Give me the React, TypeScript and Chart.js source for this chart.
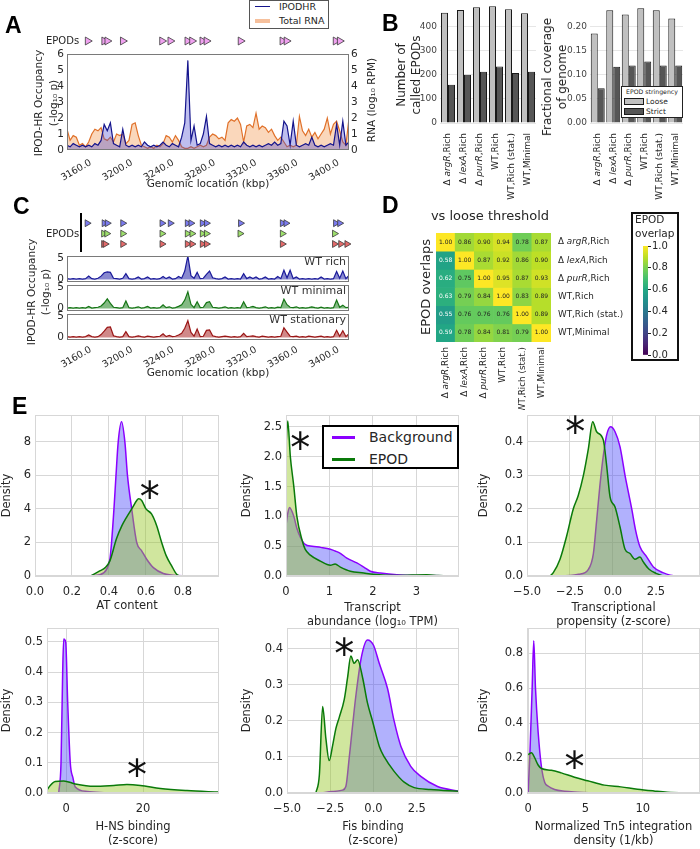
import React, { useEffect, useRef } from 'react';
import { Chart, registerables } from 'chart.js';

Chart.register(...registerables);

const FF = "'DejaVu Sans', sans-serif";
const INK = '#262626';
Chart.defaults.font.family = FF;
Chart.defaults.font.size = 11;
Chart.defaults.color = INK;

/* ================= A & C : genomic tracks ================= */
const GENOME_KBP = [
  3151, 3154, 3157, 3160, 3163, 3166, 3169, 3172, 3175, 3178,
  3181, 3184, 3187, 3190, 3193, 3196, 3199, 3202, 3205, 3208,
  3211, 3214, 3217, 3220, 3223, 3226, 3229, 3232, 3235, 3238,
  3241, 3244, 3247, 3250, 3253, 3256, 3259, 3262, 3265, 3268,
  3271, 3274, 3277, 3280, 3283, 3286, 3289, 3292, 3295, 3298,
  3301, 3304, 3307, 3310, 3313, 3316, 3319, 3322, 3325, 3328,
  3331, 3334, 3337, 3340, 3343, 3346, 3349, 3352, 3355, 3358,
  3361, 3364, 3367, 3370, 3373, 3376, 3379, 3382, 3385, 3388,
  3391, 3394, 3397, 3400, 3403, 3406, 3409, 3412, 3415, 3418,
  3421, 3424,
];
const GENOME_TICKS = [3160, 3200, 3240, 3280, 3320, 3360, 3400];
const GENOME_MIN = 3151;
const GENOME_MAX = 3424;

const IPODHR_A = [
  0.3, 0.2, 0.4, 0.3, 0.2, 0.3, 0.2, 0.3, 0.2, 0.4,
  0.3, 0.6, 1.6, 1.2, 1.7, 0.4, 0.3, 0.2, 1.3, 0.3,
  0.2, 0.3, 0.2, 0.3, 0.2, 0.5, 0.3, 0.2, 0.3, 0.2,
  0.3, 0.5, 0.3, 0.2, 0.4, 0.3, 0.2, 0.8, 1.7, 5.6,
  0.6, 1.5, 0.3, 0.4, 1.0, 2.1, 0.4, 0.3, 0.2, 0.3,
  0.2, 0.3, 0.2, 0.3, 0.2, 0.3, 0.2, 0.5, 0.3, 0.2,
  0.3, 0.2, 0.3, 0.2, 0.3, 0.4, 0.3, 0.5, 0.3, 0.4,
  1.8, 1.5, 0.3, 1.8, 0.3, 0.2, 0.3, 0.4, 0.3, 0.8,
  0.3, 0.2, 0.3, 0.2, 0.3, 0.4, 0.3, 1.6, 0.3, 1.8,
  0.3, 0.5,
];
const TOTAL_RNA_A = [
  1.3, 0.6, 0.9, 0.8, 0.3, 0.4, 0.2, 0.5, 1.0, 1.3,
  1.2, 1.4, 0.7, 0.6, 0.8, 0.5, 1.0, 0.9, 1.0, 0.4,
  0.6, 1.6, 1.7, 0.9, 0.3, 0.2, 0.1, 0.2, 0.1, 0.3,
  0.2, 0.4, 0.9, 0.8, 0.5, 0.9, 0.6, 0.2, 0.1, 0.1,
  0.2, 0.1, 0.2, 0.3, 0.2, 0.3, 0.8, 1.0, 0.9, 0.7,
  0.8, 0.6, 1.7, 1.9, 1.8, 2.0, 1.6, 0.5, 1.5, 1.6,
  1.4, 2.3, 1.3, 1.5, 1.4, 1.1, 1.3, 0.9, 0.6, 0.8,
  0.5, 0.2, 0.3, 0.2, 0.3, 2.1, 1.2, 0.9, 1.3, 0.8,
  1.1, 0.7, 1.0, 1.3, 2.0, 1.0, 1.6, 1.8, 1.2, 0.5,
  0.3, 2.0,
];
const OCC_TICKS_A = [0, 1, 2, 3, 4, 5, 6];
const EPODS_A = [3171, 3187, 3190, 3205, 3243, 3251, 3267.5, 3272, 3282, 3286, 3319, 3359.5, 3363.5, 3411, 3415];

const WT_RICH = [
  0.2, 0.1, 0.2, 0.1, 0.2, 0.1, 0.2, 0.8, 0.2, 0.1,
  0.3, 0.8, 1.6, 1.8, 1.7, 0.3, 0.2, 0.1, 0.3, 1.4,
  0.2, 0.1, 0.2, 0.6, 0.1, 0.2, 0.6, 0.1, 0.2, 0.1,
  0.2, 0.7, 0.2, 0.6, 0.1, 0.2, 0.7, 0.3, 2.0, 5.6,
  0.9, 0.3, 1.7, 0.2, 0.3, 1.2, 2.0, 0.4, 0.2, 0.1,
  0.2, 0.6, 0.1, 0.2, 0.1, 0.2, 0.1, 1.4, 0.2, 0.6,
  0.2, 0.6, 0.1, 0.2, 0.6, 0.1, 0.2, 0.1, 0.7, 0.2,
  2.2, 0.4, 2.2, 0.2, 0.6, 0.1, 0.2, 0.1, 0.2, 0.1,
  0.2, 0.1, 0.6, 0.1, 0.2, 0.1, 0.2, 1.9, 0.3, 2.0,
  0.2, 1.0,
];
const WT_MINIMAL = [
  0.1, 0.2, 0.1, 0.2, 0.1, 0.2, 0.1, 0.5, 0.1, 0.2,
  0.3, 0.6, 1.3, 2.3, 1.2, 0.3, 0.2, 0.1, 0.2, 1.8,
  0.2, 0.1, 0.2, 0.4, 0.1, 0.2, 0.5, 0.1, 0.2, 0.1,
  0.2, 0.9, 0.2, 0.4, 0.1, 0.2, 0.5, 0.9, 2.0, 4.0,
  1.0, 0.2, 1.6, 0.2, 0.3, 1.4, 1.6, 0.3, 0.2, 0.1,
  0.2, 0.4, 0.1, 0.2, 0.1, 0.2, 0.1, 1.6, 0.2, 0.3,
  0.5, 0.2, 0.1, 0.2, 0.4, 0.1, 0.2, 0.1, 0.3, 0.2,
  2.2, 0.9, 0.3, 0.2, 0.4, 0.1, 0.2, 0.1, 0.2, 0.4,
  0.2, 0.1, 0.3, 0.1, 0.2, 0.1, 0.2, 2.0, 0.3, 0.8,
  0.2, 0.3,
];
const WT_STATIONARY = [
  0.2, 0.1, 0.2, 0.1, 0.2, 0.1, 0.2, 0.6, 0.2, 0.1,
  0.2, 0.7, 1.5, 2.4, 2.5, 0.4, 0.2, 0.1, 0.2, 1.4,
  0.2, 0.1, 0.2, 0.4, 0.2, 0.1, 0.3, 0.2, 0.1, 0.2,
  0.3, 0.9, 0.2, 0.5, 0.2, 0.3, 0.6, 1.0, 2.2, 4.0,
  1.2, 0.3, 2.0, 0.2, 0.3, 1.7, 1.8, 0.4, 0.2, 0.1,
  0.2, 0.3, 0.2, 0.1, 0.2, 0.1, 0.2, 1.0, 0.2, 0.3,
  0.4, 0.2, 0.1, 0.3, 0.2, 0.1, 0.2, 0.1, 0.2, 0.3,
  2.3, 1.3, 0.3, 0.2, 0.3, 0.1, 0.2, 0.1, 0.3, 0.2,
  0.1, 0.2, 0.3, 0.1, 0.2, 0.1, 0.2, 1.7, 0.3, 1.6,
  0.2, 0.9,
];
const TRACK_TICKS = [0, 5];
const EPODS_RICH = [3170.5, 3187, 3190, 3205, 3243, 3251, 3267.5, 3271, 3282, 3286, 3319, 3359.5, 3363, 3411, 3415];
const EPODS_MINIMAL = [3186.5, 3189.5, 3205, 3243, 3267.5, 3272, 3282, 3286, 3318.5, 3359.5, 3410];
const EPODS_STATIONARY = [3186.5, 3188, 3205, 3243, 3267.5, 3272, 3282, 3286, 3359.5, 3410, 3416, 3422];

/* ================= B : EPOD counts / coverage ================= */
const GENOTYPES = ['Δ argR,Rich', 'Δ lexA,Rich', 'Δ purR,Rich', 'WT,Rich', 'WT,Rich (stat.)', 'WT,Minimal'];
const EPOD_COUNT_LOOSE = [458, 469, 480, 485, 472, 455];
const EPOD_COUNT_STRICT = [159, 200, 213, 234, 207, 213];
const COUNT_TICKS = [0, 100, 200, 300, 400];
const COVERAGE_LOOSE = [0.185, 0.233, 0.224, 0.237, 0.233, 0.216];
const COVERAGE_STRICT = [0.072, 0.116, 0.119, 0.127, 0.119, 0.119];
const COVERAGE_TICKS = [0, 0.05, 0.1, 0.15, 0.2];

/* ================= D : overlap heatmap ================= */
const OVERLAP_ROWS = [
  [1.0, 0.86, 0.9, 0.94, 0.78, 0.87],
  [0.58, 1.0, 0.87, 0.92, 0.86, 0.9],
  [0.62, 0.75, 1.0, 0.95, 0.87, 0.93],
  [0.63, 0.79, 0.84, 1.0, 0.83, 0.89],
  [0.55, 0.76, 0.76, 0.76, 1.0, 0.89],
  [0.59, 0.78, 0.84, 0.81, 0.79, 1.0],
];
const OVERLAP_TICKS = [0, 0.2, 0.4, 0.6, 0.8, 1.0];

/* ================= E : densities ================= */
const AT_BG_X = [0.22, 0.3, 0.35, 0.387, 0.405, 0.414, 0.427, 0.438, 0.45, 0.468, 0.486, 0.5, 0.523, 0.55, 0.577, 0.604, 0.64, 0.694, 0.748, 0.82];
const AT_BG_Y = [0, 0.02, 0.08, 0.4, 1.0, 2.0, 4.0, 6.0, 8.0, 9.2, 8.0, 6.0, 4.0, 2.0, 1.5, 1.0, 0.5, 0.15, 0.05, 0];
const AT_EP_X = [0.3, 0.35, 0.38, 0.405, 0.44, 0.47, 0.495, 0.523, 0.55, 0.56, 0.577, 0.6, 0.63, 0.658, 0.685, 0.71, 0.739, 0.766, 0.78];
const AT_EP_Y = [0, 0.3, 0.5, 0.9, 2.2, 3.0, 3.5, 4.0, 4.5, 4.6, 4.5, 4.0, 3.7, 3.0, 2.0, 1.2, 0.6, 0.1, 0];

const TX_BG_X = [0, 0.04, 0.08, 0.18, 0.25, 0.33, 0.44, 0.6, 0.8, 1.02, 1.13, 1.25, 1.4, 1.63, 1.79, 1.94, 2.17, 2.55, 3.0, 3.3, 3.98];
const TX_BG_Y = [0.85, 1.05, 1.15, 1.0, 0.8, 0.65, 0.53, 0.5, 0.48, 0.45, 0.42, 0.38, 0.3, 0.22, 0.15, 0.08, 0.05, 0.02, 0.01, 0.01, 0];
const TX_EP_X = [0, 0.04, 0.1, 0.18, 0.25, 0.37, 0.44, 0.56, 0.79, 1.02, 1.13, 1.25, 1.48, 1.79, 2.0, 2.55, 3.24, 3.5, 3.98];
const TX_EP_Y = [2.2, 2.6, 2.0, 1.5, 1.0, 0.6, 0.45, 0.35, 0.25, 0.18, 0.2, 0.15, 0.08, 0.05, 0.03, 0.01, 0.02, 0.01, 0];

const TP_BG_X = [-5.0, -3.1, -2.0, -1.43, -1.14, -0.95, -0.76, -0.56, -0.37, -0.14, 0.12, 0.41, 0.7, 1.09, 1.3, 1.57, 1.96, 2.35, 2.9, 3.7, 5.0];
const TP_BG_Y = [0, 0, 0.005, 0.02, 0.067, 0.166, 0.27, 0.36, 0.42, 0.445, 0.43, 0.385, 0.3, 0.2, 0.14, 0.087, 0.057, 0.027, 0.01, 0, 0];
const TP_EP_X = [-3.66, -3.47, -3.08, -2.69, -2.31, -2.02, -1.72, -1.43, -1.18, -0.95, -0.56, -0.37, -0.17, 0.12, 0.41, 0.7, 0.99, 1.28, 1.57, 1.76, 2.1, 2.5, 2.93];
const TP_EP_Y = [0, 0.01, 0.05, 0.12, 0.2, 0.24, 0.3, 0.38, 0.46, 0.43, 0.405, 0.33, 0.236, 0.206, 0.146, 0.08, 0.067, 0.05, 0.057, 0.042, 0.02, 0.008, 0];

const HNS_BG_X = [-1.9, -1.3, -0.87, -0.6, -0.09, 0.43, 1.1, 1.8, 2.4, 5.5, 10.6];
const HNS_BG_Y = [0, 0.1, 0.4, 0.51, 0.5, 0.3, 0.1, 0.05, 0.02, 0.005, 0];
const HNS_EP_X = [-4.94, -4.1, -2.8, -0.6, 2.4, 7.2, 12.4, 15.8, 19.3, 24.5, 31.4, 39.7];
const HNS_EP_Y = [0.01, 0.025, 0.038, 0.04, 0.03, 0.022, 0.025, 0.028, 0.025, 0.015, 0.008, 0.003];

const FIS_BG_X = [-3.0, -2.4, -1.8, -1.6, -1.4, -1.02, -0.69, -0.35, 0.0, 0.33, 0.81, 1.19, 1.58, 2.15, 2.73, 3.7, 4.94];
const FIS_BG_Y = [0, 0.004, 0.008, 0.018, 0.1, 0.27, 0.38, 0.425, 0.41, 0.36, 0.29, 0.2, 0.13, 0.074, 0.046, 0.018, 0.005];
const FIS_EP_X = [-3.33, -3.13, -2.94, -2.75, -2.56, -2.37, -2.17, -1.98, -1.69, -1.5, -1.31, -1.12, -0.92, -0.63, -0.35, -0.06, 0.33, 0.62, 1.19, 1.77, 2.35, 3.3, 4.94];
const FIS_EP_Y = [0, 0.05, 0.24, 0.15, 0.09, 0.13, 0.18, 0.21, 0.26, 0.32, 0.38, 0.36, 0.37, 0.32, 0.25, 0.2, 0.13, 0.1, 0.06, 0.03, 0.015, 0.01, 0.005];

const TN5_BG_X = [0, 0.14, 0.35, 0.49, 0.64, 0.87, 1.16, 1.45, 1.73, 2.31, 3.18, 4.34, 5.8];
const TN5_BG_Y = [0, 0.2, 0.6, 0.87, 0.6, 0.35, 0.15, 0.06, 0.04, 0.02, 0.01, 0.005, 0];
const TN5_EP_X = [0, 0.29, 0.58, 0.87, 1.16, 2.02, 2.89, 4.05, 5.2, 6.65, 8.09, 9.54, 10.98, 12.14, 13.87, 15.0];
const TN5_EP_Y = [0.22, 0.23, 0.2, 0.16, 0.14, 0.13, 0.115, 0.09, 0.07, 0.045, 0.035, 0.022, 0.012, 0.005, 0.001, 0];

/* ================= helpers ================= */
const VIRIDIS = ['#440154', '#482475', '#414487', '#355f8d', '#2a788e', '#21918c', '#22a884', '#44bf70', '#7ad151', '#bddf26', '#fde725'];
const hexRgb = (h: string) => [parseInt(h.slice(1, 3), 16), parseInt(h.slice(3, 5), 16), parseInt(h.slice(5, 7), 16)];
function viridis(t: number): string {
  const v = Math.max(0, Math.min(1, t)) * (VIRIDIS.length - 1);
  const i = Math.min(VIRIDIS.length - 2, Math.floor(v));
  const f = v - i;
  const a = hexRgb(VIRIDIS[i]);
  const b = hexRgb(VIRIDIS[i + 1]);
  return `rgb(${Math.round(a[0] + (b[0] - a[0]) * f)},${Math.round(a[1] + (b[1] - a[1]) * f)},${Math.round(a[2] + (b[2] - a[2]) * f)})`;
}

const fixedTicks = (vals: number[]) => (s: any) => {
  s.ticks = vals.map((v) => ({ value: v }));
};
const fixW = (w: number) => (s: any) => {
  s.width = w;
  s.paddingTop = 0; s.paddingBottom = 0; s.paddingLeft = 0; s.paddingRight = 0;
};
const fixH = (h: number) => (s: any) => {
  s.height = h;
  s.paddingTop = 0; s.paddingBottom = 0; s.paddingLeft = 0; s.paddingRight = 0;
};
const minus = (v: number, d: number) => (v < 0 ? '\u2212' : '') + Math.abs(v).toFixed(d);
const fmt0 = (v: any) => minus(Number(v), 0);
const fmt1 = (v: any) => minus(Number(v), 1);
const fmt2 = (v: any) => minus(Number(v), 2);

const base = (padding: any) => ({
  responsive: false,
  animation: false,
  devicePixelRatio: 1,
  events: [],
  layout: { padding },
  plugins: { legend: { display: false }, tooltip: { enabled: false } },
});

const framePlugin = (color: string, lw = 1) => ({
  id: 'frameBox',
  afterDatasetsDraw(chart: any) {
    const { ctx, chartArea: a } = chart;
    ctx.save();
    ctx.strokeStyle = color;
    ctx.lineWidth = lw;
    ctx.strokeRect(Math.round(a.left) + 0.5, Math.round(a.top) + 0.5, Math.round(a.right - a.left) - 1, Math.round(a.bottom - a.top) - 1);
    ctx.restore();
  },
});

const rotXLabels = (pad: number, size: number) => ({
  id: 'rotXLabels',
  afterDraw(chart: any) {
    const s = chart.scales.x;
    const a = chart.chartArea;
    const ctx = chart.ctx;
    const th = (30 * Math.PI) / 180;
    ctx.save();
    ctx.font = `${size}px ${FF}`;
    ctx.fillStyle = INK;
    ctx.textAlign = 'center';
    ctx.textBaseline = 'middle';
    s.ticks.forEach((t: any) => {
      const lab = Number(t.value).toFixed(1);
      const w = ctx.measureText(lab).width;
      const h = size * 0.75;
      const half = (w * Math.sin(th) + h * Math.cos(th)) / 2;
      ctx.save();
      ctx.translate(s.getPixelForValue(t.value), a.bottom + pad + half);
      ctx.rotate(-th);
      ctx.fillText(lab, 0, 0);
      ctx.restore();
    });
    ctx.restore();
  },
});

const cornerText = (text: string) => ({
  id: 'cornerText',
  afterDraw(chart: any) {
    const { ctx, chartArea: a } = chart;
    ctx.save();
    ctx.font = `11px ${FF}`;
    ctx.fillStyle = '#333';
    ctx.textAlign = 'right';
    ctx.textBaseline = 'top';
    ctx.fillText(text, a.right - 3, a.top + 1);
    ctx.restore();
  },
});

function segsOf(label: string) {
  const m = label.match(/^(Δ )(\w+)(,.*)$/);
  if (!m) return [{ t: label, it: false }];
  return [{ t: m[1], it: false }, { t: m[2], it: true }, { t: m[3], it: false }];
}
function drawRich(ctx: any, label: string, x: number, y: number, size: number, rotate: boolean, alignRight: boolean) {
  ctx.save();
  const segs = segsOf(label);
  const fonts = segs.map((s) => `${s.it ? 'italic ' : ''}${size}px ${FF}`);
  let total = 0;
  const ws = segs.map((s, i) => {
    ctx.font = fonts[i];
    const w = ctx.measureText(s.t).width;
    total += w;
    return w;
  });
  ctx.translate(x, y);
  if (rotate) ctx.rotate(-Math.PI / 2);
  ctx.fillStyle = INK;
  ctx.textBaseline = 'middle';
  ctx.textAlign = 'left';
  let cx = alignRight ? -total : 0;
  segs.forEach((s, i) => {
    ctx.font = fonts[i];
    ctx.fillText(s.t, cx, 0);
    cx += ws[i];
  });
  ctx.restore();
}

const categoryLabels = (pad: number, size: number) => ({
  id: 'categoryLabels',
  afterDraw(chart: any) {
    const s = chart.scales.x;
    const a = chart.chartArea;
    chart.data.labels.forEach((lab: string, i: number) => {
      drawRich(chart.ctx, lab, s.getPixelForValue(i), a.bottom + pad, size, true, true);
    });
  },
});

/* ================= chart configs ================= */
function trackLine(ys: number[], line: string, fill: string, axis: string, order: number) {
  return {
    data: GENOME_KBP.map((x, i) => ({ x, y: ys[i] })),
    borderColor: line,
    backgroundColor: fill,
    fill: 'origin',
    borderWidth: 1.2,
    pointRadius: 0,
    tension: 0,
    yAxisID: axis,
    order,
  };
}
function epodMarks(xs: number[], y: number, color: string, r: number) {
  return {
    data: xs.map((x) => ({ x, y })),
    showLine: false,
    pointStyle: 'triangle',
    pointRotation: 90,
    pointRadius: r,
    pointBackgroundColor: color,
    pointBorderColor: '#3a3a3a',
    pointBorderWidth: 0.8,
    clip: false,
    yAxisID: 'y',
    order: 0,
  };
}
const hiddenGenomeX = { type: 'linear', min: GENOME_MIN, max: GENOME_MAX, display: false };
const genomeX = (h: number, titlePad: number) => ({
  type: 'linear',
  min: GENOME_MIN,
  max: GENOME_MAX,
  afterBuildTicks: fixedTicks(GENOME_TICKS),
  afterFit: fixH(h),
  ticks: { display: false },
  grid: { display: false, drawTicks: false },
  border: { display: false },
  title: { display: true, text: 'Genomic location (kbp)', color: INK, font: { size: 10.5 }, padding: { top: 0, bottom: titlePad } },
});

const configEpodA = () => ({
  type: 'line',
  data: { datasets: [epodMarks(EPODS_A, 1, '#f0a2f0', 4.6)] },
  options: {
    ...base({ top: 0, right: 41, bottom: 0, left: 67 }),
    scales: { x: hiddenGenomeX, y: { min: 0.5, max: 1.5, display: false } },
  },
});

const configA = () => ({
  type: 'line',
  data: {
    datasets: [
      trackLine(IPODHR_A, '#14148c', 'rgba(70,70,205,0.35)', 'y', 1),
      trackLine(TOTAL_RNA_A, '#e0712a', 'rgba(240,140,60,0.35)', 'y2', 2),
    ],
  },
  options: {
    ...base({ top: 24, right: 0, bottom: 0, left: 0 }),
    scales: {
      x: genomeX(45, 4),
      y: {
        position: 'left', min: 0, max: 6, afterBuildTicks: fixedTicks(OCC_TICKS_A), afterFit: fixW(67),
        ticks: { font: { size: 10.5 }, padding: 3, callback: fmt0 },
        grid: { display: false, drawTicks: false }, border: { display: false },
      },
      y2: {
        position: 'right', min: 0, max: 6, afterBuildTicks: fixedTicks(OCC_TICKS_A), afterFit: fixW(41),
        ticks: { font: { size: 10.5 }, padding: 2, callback: fmt0 },
        grid: { display: false, drawTicks: false }, border: { display: false },
      },
    },
  },
  plugins: [framePlugin('#7a7a7a'), rotXLabels(9, 9.5)],
});

const configTrack = (ys: number[], line: string, fill: string, label: string, withAxis: boolean) => () => ({
  type: 'line',
  data: { datasets: [trackLine(ys, line, fill, 'y', 1)] },
  options: {
    ...base({ top: 6, right: 41, bottom: withAxis ? 0 : 2, left: 0 }),
    scales: {
      x: withAxis ? genomeX(48, 8) : hiddenGenomeX,
      y: {
        min: -0.6, max: 5.6, afterBuildTicks: fixedTicks(TRACK_TICKS), afterFit: fixW(67),
        ticks: { font: { size: 10.5 }, padding: 3, callback: fmt0 },
        grid: { display: false, drawTicks: false }, border: { display: false },
      },
    },
  },
  plugins: [framePlugin('#7a7a7a'), cornerText(label), ...(withAxis ? [rotXLabels(6, 9.5)] : [])],
});

const configEpodRows = () => ({
  type: 'line',
  data: {
    datasets: [
      epodMarks(EPODS_RICH, 3, '#7b7bef', 4),
      epodMarks(EPODS_MINIMAL, 2, '#9ee06c', 4),
      epodMarks(EPODS_STATIONARY, 1, '#e36a6a', 4),
    ],
  },
  options: {
    ...base({ top: 6, right: 41, bottom: 1, left: 67 }),
    scales: { x: hiddenGenomeX, y: { min: 0.5, max: 3.5, display: false } },
  },
});

const configBars = (loose: number[], strict: number[], max: number, ticks: number[], fmt: any, yW: number, padRight: number, catPct: number) => () => ({
  type: 'bar',
  data: {
    labels: GENOTYPES,
    datasets: [
      { label: 'Loose', data: loose, backgroundColor: '#c0c0c0', borderColor: '#1a1a1a', borderWidth: 1, barPercentage: 1, categoryPercentage: catPct },
      { label: 'Strict', data: strict, backgroundColor: '#565656', borderColor: '#1a1a1a', borderWidth: 1, barPercentage: 1, categoryPercentage: catPct },
    ],
  },
  options: {
    ...base({ top: 3, right: padRight, bottom: 0, left: 0 }),
    scales: {
      x: { ticks: { display: false }, grid: { display: false, drawTicks: false }, border: { display: false }, afterFit: fixH(82) },
      y: {
        min: 0, max, afterBuildTicks: fixedTicks(ticks), afterFit: fixW(yW),
        ticks: { font: { size: 9 }, padding: 3, color: '#444', callback: fmt },
        grid: { color: '#e6e6e6', drawTicks: false }, border: { display: false },
      },
    },
  },
  plugins: [categoryLabels(10, 9)],
});

const heatPlugin = {
  id: 'heatText',
  afterDatasetsDraw(chart: any) {
    const ctx = chart.ctx;
    const a = chart.chartArea;
    OVERLAP_ROWS.forEach((row, r) => {
      const meta = chart.getDatasetMeta(r);
      meta.data.forEach((el: any, c: number) => {
        ctx.save();
        ctx.font = `6px ${FF}`;
        ctx.textAlign = 'center';
        ctx.textBaseline = 'middle';
        ctx.fillStyle = row[c] < 0.7 ? '#ffffff' : '#222222';
        ctx.fillText(row[c].toFixed(2), el.x, (el.y + el.base) / 2);
        ctx.restore();
      });
    });
    OVERLAP_ROWS.forEach((row, r) => {
      const e0 = chart.getDatasetMeta(r).data[0];
      drawRich(ctx, GENOTYPES[r], a.right + 7, (e0.y + e0.base) / 2, 8.8, false, false);
    });
    const m0 = chart.getDatasetMeta(0);
    GENOTYPES.forEach((g, c) => {
      drawRich(ctx, g, m0.data[c].x, a.bottom + 5, 8.8, true, true);
    });
  },
};

const configHeat = () => ({
  type: 'bar',
  data: {
    labels: GENOTYPES,
    datasets: OVERLAP_ROWS.map((row) => ({
      data: row.map(() => 1),
      backgroundColor: row.map(viridis),
      borderWidth: 0,
      barPercentage: 1,
      categoryPercentage: 1,
      stack: 'grid',
    })),
  },
  options: {
    ...base({ top: 8, right: 79, bottom: 68, left: 36 }),
    scales: {
      x: { stacked: true, display: false },
      y: { stacked: true, reverse: true, min: 0, max: 6, display: false },
    },
  },
  plugins: [heatPlugin],
});

const configColorbar = () => ({
  type: 'bar',
  data: {
    labels: ['EPOD overlap'],
    datasets: [
      {
        data: [[0, 1]],
        borderWidth: 0,
        barPercentage: 1,
        categoryPercentage: 1,
        backgroundColor: (c: any) => {
          const a = c.chart.chartArea;
          if (!a) return VIRIDIS[5];
          const g = c.chart.ctx.createLinearGradient(0, a.bottom, 0, a.top);
          VIRIDIS.forEach((col, i) => g.addColorStop(i / (VIRIDIS.length - 1), col));
          return g;
        },
      },
    ],
  },
  options: {
    ...base({ top: 6, right: 0, bottom: 7, left: 7 }),
    scales: {
      x: { display: false },
      y: {
        position: 'right', min: 0, max: 1, afterBuildTicks: fixedTicks(OVERLAP_TICKS), afterFit: fixW(32),
        ticks: { font: { size: 10 }, padding: 1, callback: fmt1 },
        grid: { drawOnChartArea: false, drawTicks: true, tickLength: 3, color: '#222' },
        border: { display: false },
      },
    },
  },
});

const BG_LINE = '#8b00ff';
const BG_FILL = 'rgba(70,70,250,0.42)';
const EP_LINE = '#0a7a0a';
const EP_FILL = 'rgba(150,200,40,0.45)';
const GRID = '#d7d7d7';

const starPlugin = (pos: number[]) => ({
  id: 'significance',
  afterDatasetsDraw(chart: any) {
    const ctx = chart.ctx;
    const px = chart.scales.x.getPixelForValue(pos[0]);
    const py = chart.scales.y.getPixelForValue(pos[1]);
    ctx.save();
    ctx.font = `40px ${FF}`;
    ctx.fillStyle = '#111';
    ctx.textAlign = 'center';
    ctx.textBaseline = 'alphabetic';
    ctx.fillText('*', px, py + 19);
    ctx.restore();
  },
});

function configDensity(d: any) {
  return () => ({
    type: 'line',
    data: {
      datasets: [
        { label: 'Background', data: d.bgX.map((x: number, i: number) => ({ x, y: d.bgY[i] })), borderColor: BG_LINE, backgroundColor: BG_FILL, fill: 'origin', borderWidth: 1.5, pointRadius: 0, cubicInterpolationMode: 'monotone', order: 2 },
        { label: 'EPOD', data: d.epX.map((x: number, i: number) => ({ x, y: d.epY[i] })), borderColor: EP_LINE, backgroundColor: EP_FILL, fill: 'origin', borderWidth: 1.5, pointRadius: 0, cubicInterpolationMode: 'monotone', order: 1 },
      ],
    },
    options: {
      ...base({ top: 7, right: d.padRight, bottom: 0, left: 0 }),
      scales: {
        x: {
          type: 'linear', min: d.xMin, max: d.xMax, afterBuildTicks: fixedTicks(d.xTicks), afterFit: fixH(d.xH),
          ticks: { autoSkip: false, maxRotation: 0, minRotation: 0, padding: 9, font: { size: 11.5 }, callback: d.xFmt },
          grid: { color: GRID, drawTicks: false }, border: { display: false },
          title: { display: true, text: d.xTitle, color: INK, font: { size: 11.5, lineHeight: 1.2 }, padding: { top: 0, bottom: 0 } },
        },
        y: {
          min: 0, max: d.yMax, afterBuildTicks: fixedTicks(d.yTicks), afterFit: fixW(d.yW),
          ticks: { padding: 4, font: { size: 11.5 }, callback: d.yFmt },
          grid: { color: GRID, drawTicks: false }, border: { display: false },
          title: { display: true, text: 'Density', color: INK, font: { size: 11.5, lineHeight: 1.2 }, padding: { top: 0, bottom: 0 } },
        },
      },
    },
    plugins: [framePlugin(GRID), starPlugin(d.star)],
  });
}

const E_PANELS = [
  { key: 'e1', left: 0, top: 408, w: 225, h: 205, yW: 35, xH: 37, padRight: 6, bgX: AT_BG_X, bgY: AT_BG_Y, epX: AT_EP_X, epY: AT_EP_Y, xMin: 0, xMax: 0.995, yMax: 9.6, xTicks: [0, 0.2, 0.4, 0.6, 0.8], yTicks: [0, 2, 4, 6, 8], xFmt: fmt1, yFmt: fmt0, xTitle: 'AT content', star: [0.62, 5.0] },
  { key: 'e2', left: 240, top: 408, w: 225, h: 221, yW: 46, xH: 53, padRight: 6, bgX: TX_BG_X, bgY: TX_BG_Y, epX: TX_EP_X, epY: TX_EP_Y, xMin: 0, xMax: 3.98, yMax: 2.7, xTicks: [0, 1, 2, 3], yTicks: [0, 0.5, 1, 1.5, 2, 2.5], xFmt: fmt0, yFmt: fmt1, xTitle: ['Transcript', 'abundance (log₁₀ TPM)'], star: [0.33, 2.23] },
  { key: 'e3', left: 477, top: 408, w: 223, h: 221, yW: 50, xH: 53, padRight: 0, bgX: TP_BG_X, bgY: TP_BG_Y, epX: TP_EP_X, epY: TP_EP_Y, xMin: -5, xMax: 5.06, yMax: 0.48, xTicks: [-5, -2.5, 0, 2.5], yTicks: [0, 0.1, 0.2, 0.3, 0.4], xFmt: fmt1, yFmt: fmt1, xTitle: ['Transcriptional', 'propensity (z-score)'], star: [-2.2, 0.445] },
  { key: 'e4', left: 0, top: 621, w: 225, h: 227, yW: 47, xH: 55, padRight: 6, bgX: HNS_BG_X, bgY: HNS_BG_Y, epX: HNS_EP_X, epY: HNS_EP_Y, xMin: -4.94, xMax: 39.7, yMax: 0.546, xTicks: [0, 20], yTicks: [0, 0.1, 0.2, 0.3, 0.4, 0.5], xFmt: fmt0, yFmt: fmt1, xTitle: ['H-NS binding', '(z-score)'], star: [18.4, 0.077] },
  { key: 'e5', left: 240, top: 621, w: 225, h: 227, yW: 47, xH: 55, padRight: 6, bgX: FIS_BG_X, bgY: FIS_BG_Y, epX: FIS_EP_X, epY: FIS_EP_Y, xMin: -5, xMax: 4.94, yMax: 0.458, xTicks: [-5, -2.5, 0, 2.5], yTicks: [0, 0.1, 0.2, 0.3, 0.4], xFmt: fmt1, yFmt: fmt1, xTitle: ['Fis binding', '(z-score)'], star: [-1.69, 0.4] },
  { key: 'e6', left: 477, top: 621, w: 223, h: 227, yW: 50, xH: 55, padRight: 0, bgX: TN5_BG_X, bgY: TN5_BG_Y, epX: TN5_EP_X, epY: TN5_EP_Y, xMin: -0.1, xMax: 15, yMax: 0.943, xTicks: [0, 5, 10], yTicks: [0, 0.2, 0.4, 0.6, 0.8], xFmt: fmt0, yFmt: fmt1, xTitle: ['Normalized Tn5 integration', 'density (1/kb)'], star: [4.05, 0.18] },
];

/* ================= components ================= */
function ChartCanvas({ left, top, width, height, make }: any) {
  const ref = useRef<HTMLCanvasElement>(null);
  useEffect(() => {
    const chart = new Chart(ref.current as HTMLCanvasElement, make());
    return () => chart.destroy();
  }, []);
  return <canvas ref={ref} width={width} height={height} style={{ position: 'absolute', left, top, width, height }} />;
}

function VText({ cx, cy, lines, size, lh, rot = -90, color = INK }: any) {
  return (
    <div
      style={{
        position: 'absolute', left: cx, top: cy, transform: `translate(-50%, -50%) rotate(${rot}deg)`,
        fontFamily: FF, fontSize: size, lineHeight: `${lh}px`, whiteSpace: 'nowrap', textAlign: 'center', color,
      }}
    >
      {lines.map((l: string, i: number) => <div key={i}>{l}</div>)}
    </div>
  );
}

function Letter({ x, y, t }: any) {
  return (
    <div style={{ position: 'absolute', left: x, top: y, fontFamily: "'Liberation Sans', Arial, sans-serif", fontWeight: 'bold', fontSize: 23, lineHeight: '23px', color: '#000' }}>{t}</div>
  );
}

const abs = (left: number, top: number, extra: any = {}) => ({ position: 'absolute' as const, left, top, ...extra });

export default function App() {
  return (
    <div style={{ position: 'absolute', left: 0, top: 0, width: 700, height: 849, background: '#fff', overflow: 'hidden', fontFamily: FF, color: INK }}>
      {/* A */}
      <ChartCanvas left={0} top={30} width={390} height={165} make={configA} />
      <ChartCanvas left={0} top={33} width={390} height={16} make={configEpodA} />
      {/* C */}
      <ChartCanvas left={0} top={212} width={390} height={42} make={configEpodRows} />
      <ChartCanvas left={0} top={250} width={390} height={34} make={configTrack(WT_RICH, '#1a1a9a', 'rgba(40,40,170,0.55)', 'WT rich', false)} />
      <ChartCanvas left={0} top={279} width={390} height={34} make={configTrack(WT_MINIMAL, '#157515', 'rgba(30,130,30,0.55)', 'WT minimal', false)} />
      <ChartCanvas left={0} top={308} width={390} height={80} make={configTrack(WT_STATIONARY, '#9a1515', 'rgba(170,40,40,0.55)', 'WT stationary', true)} />
      {/* B */}
      <ChartCanvas left={380} top={0} width={165} height={205} make={configBars(EPOD_COUNT_LOOSE, EPOD_COUNT_STRICT, 498, COUNT_TICKS, fmt0, 60, 9, 0.875)} />
      <ChartCanvas left={545} top={0} width={155} height={205} make={configBars(COVERAGE_LOOSE, COVERAGE_STRICT, 0.248, COVERAGE_TICKS, fmt2, 45, 17, 0.9)} />
      {/* D */}
      <ChartCanvas left={400} top={225} width={230} height={185} make={configHeat} />
      <div style={abs(631, 212, { width: 48, height: 149, border: '2px solid #111', boxSizing: 'border-box' })} />
      <ChartCanvas left={636} top={240} width={44} height={122} make={configColorbar} />
      {/* E */}
      {E_PANELS.map((p) => (
        <ChartCanvas key={p.key} left={p.left} top={p.top} width={p.w} height={p.h} make={configDensity(p)} />
      ))}

      {/* ---------- text overlays ---------- */}
      <Letter x={5} y={14} t="A" />
      <Letter x={382} y={12} t="B" />
      <Letter x={13} y={195} t="C" />
      <Letter x={382} y={194} t="D" />
      <Letter x={12} y={395} t="E" />

      {/* A legend */}
      <div style={abs(249, 0, { width: 80, height: 29, border: '1px solid #555', boxSizing: 'border-box', background: '#fff', fontSize: 9.5 })}>
        <div style={abs(5, 4.5, { width: 15, height: 1.5, background: '#14148c' })} />
        <div style={abs(29, -0.5, { lineHeight: '11px', whiteSpace: 'nowrap' })}>IPODHR</div>
        <div style={abs(5, 17.5, { width: 15, height: 4, background: 'rgba(240,150,90,0.6)' })} />
        <div style={abs(29, 14, { lineHeight: '11px', whiteSpace: 'nowrap' })}>Total RNA</div>
      </div>
      <div style={abs(46, 35, { fontSize: 10, lineHeight: '12px' })}>EPODs</div>
      <VText cx={45.5} cy={103} lines={['IPOD-HR Occupancy', '(-log₁₀ p)']} size={10.5} lh={15} />
      <VText cx={371} cy={100} lines={['RNA (log₁₀ RPM)']} size={10.5} lh={13} />

      {/* B titles + legend */}
      <VText cx={409} cy={75} lines={['Number of', 'called EPODs']} size={12} lh={15} />
      <VText cx={555} cy={77} lines={['Fractional coverage', 'of genome']} size={12} lh={15} />
      <div style={abs(621, 86, { width: 62, height: 32, border: '1px solid #222', boxSizing: 'border-box', background: '#fff' })}>
        <div style={abs(0, 1, { width: 60, textAlign: 'center', fontSize: 6.2, lineHeight: '8px', whiteSpace: 'nowrap' })}>EPOD stringency</div>
        <div style={abs(1.5, 11.3, { width: 20, height: 6.7, background: '#c0c0c0', border: '1px solid #1a1a1a', boxSizing: 'border-box' })} />
        <div style={abs(24, 10.2, { fontSize: 7.5, lineHeight: '9px' })}>Loose</div>
        <div style={abs(1.5, 21.3, { width: 20, height: 6.7, background: '#565656', border: '1px solid #1a1a1a', boxSizing: 'border-box' })} />
        <div style={abs(24, 20.2, { fontSize: 7.5, lineHeight: '9px' })}>Strict</div>
      </div>

      {/* C labels */}
      <div style={abs(46, 228, { fontSize: 10, lineHeight: '12px' })}>EPODs</div>
      <div style={abs(80, 213, { width: 2, height: 39, background: '#000' })} />
      <VText cx={38} cy={292} lines={['IPOD-HR Occupancy', '(-log₁₀ p)']} size={10.5} lh={14} />

      {/* D labels */}
      <VText cx={490} cy={216} lines={['vs loose threshold']} size={13} lh={16} rot={0} />
      <VText cx={426} cy={287} lines={['EPOD overlaps']} size={13} lh={16} />
      <div style={abs(635, 212, { fontSize: 10.5, lineHeight: '14px' })}>
        <div>EPOD</div>
        <div>overlap</div>
      </div>

      {/* E legend */}
      <div style={abs(322, 425, { width: 137, height: 44, border: '2px solid #000', boxSizing: 'border-box', background: '#fff', fontSize: 14 })}>
        <div style={abs(7.7, 8.8, { width: 23, height: 3, background: BG_LINE })} />
        <div style={abs(45, 2, { lineHeight: '16px' })}>Background</div>
        <div style={abs(7.7, 30.8, { width: 23, height: 3, background: EP_LINE })} />
        <div style={abs(45, 24, { lineHeight: '16px' })}>EPOD</div>
      </div>
    </div>
  );
}
